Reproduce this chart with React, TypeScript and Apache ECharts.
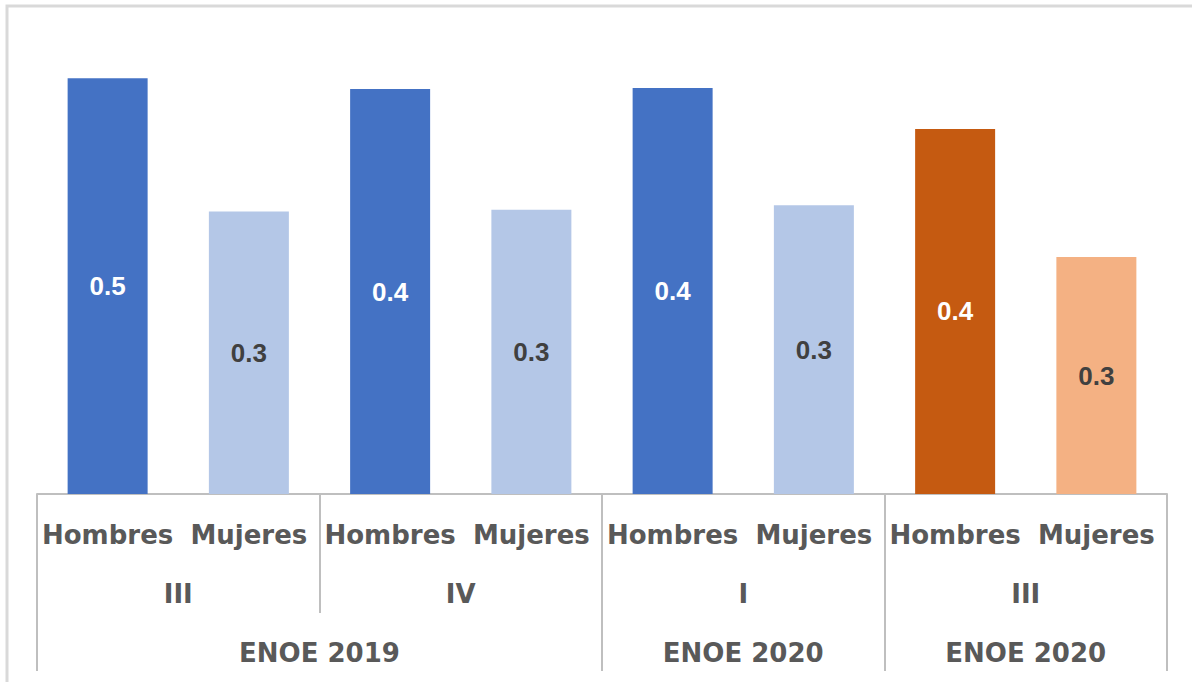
import React, { useEffect, useRef } from "react";
import * as echarts from "echarts";

const categories = ["Hombres", "Mujeres", "Hombres", "Mujeres", "Hombres", "Mujeres", "Hombres", "Mujeres"];
const values = [0.458, 0.311, 0.446, 0.313, 0.447, 0.318, 0.402, 0.261];
const quarters = ["III", "IV", "I", "III"];
const surveys = ["ENOE 2019", "ENOE 2020", "ENOE 2020"];
const surveyBoundaries = [0, 4, 6, 8];
const surveyCenters = [2, 5, 7];

const barColors = ["#4472C4", "#B4C7E7", "#4472C4", "#B4C7E7", "#4472C4", "#B4C7E7", "#C55A11", "#F4B183"];
const labelColors = ["#FFFFFF", "#404040", "#FFFFFF", "#404040", "#FFFFFF", "#404040", "#FFFFFF", "#404040"];

const AXIS_GRAY = "#BFBFBF";
const TEXT_GRAY = "#595959";
const AXIS_FONT = "'DejaVu Sans', sans-serif";

export default function App() {
  const ref = useRef<HTMLDivElement>(null);
  useEffect(() => {
    document.body.style.margin = "0";
    if (!ref.current) return;
    const chart = echarts.init(ref.current, null, { renderer: "svg" });
    chart.setOption({
      animation: false,
      backgroundColor: "#FFFFFF",
      graphic: [
        {
          type: "rect",
          shape: { x: 7, y: 6, width: 1300, height: 800 },
          style: { fill: "none", stroke: "#D9D9D9", lineWidth: 3 },
          silent: true,
        },
      ],
      grid: { left: 37, right: 25, top: 40, bottom: 188, containLabel: false },
      xAxis: [
        {
          type: "category",
          data: categories,
          position: "bottom",
          axisLine: { show: true, lineStyle: { color: AXIS_GRAY, width: 2 } },
          axisTick: { show: false },
          axisLabel: {
            interval: 0,
            margin: 28,
            color: TEXT_GRAY,
            fontFamily: AXIS_FONT,
            fontWeight: "bold",
            fontSize: 26,
          },
        },
        {
          type: "category",
          data: quarters,
          position: "bottom",
          axisLine: { show: false },
          axisTick: { show: true, interval: 0, length: 119, lineStyle: { color: AXIS_GRAY, width: 2 } },
          axisLabel: {
            interval: 0,
            margin: 87,
            color: TEXT_GRAY,
            fontFamily: AXIS_FONT,
            fontWeight: "bold",
            fontSize: 26,
          },
        },
        {
          type: "value",
          min: 0,
          max: 8,
          position: "bottom",
          axisLine: { show: false },
          splitLine: { show: false },
          axisTick: {
            show: true,
            customValues: surveyBoundaries,
            length: 177,
            lineStyle: { color: AXIS_GRAY, width: 2 },
          },
          axisLabel: {
            customValues: surveyCenters,
            formatter: (v: number) => surveys[surveyCenters.indexOf(v)] ?? "",
            margin: 146,
            color: TEXT_GRAY,
            fontFamily: AXIS_FONT,
            fontWeight: "bold",
            fontSize: 26,
          },
        },
      ],
      yAxis: {
        type: "value",
        min: 0,
        max: 0.5,
        show: false,
      },
      series: [
        {
          type: "bar",
          xAxisIndex: 0,
          barWidth: 80,
          data: values.map((v, i) => ({
            value: v,
            itemStyle: { color: barColors[i] },
            label: { color: labelColors[i] },
          })),
          label: {
            show: true,
            position: "inside",
            formatter: (p: any) => Number(p.value).toFixed(1),
            fontFamily: "'Liberation Sans', Arial, sans-serif",
            fontWeight: "bold",
            fontSize: 26,
          },
        },
      ],
    });
    return () => chart.dispose();
  }, []);
  return <div ref={ref} style={{ width: 1192, height: 682 }} />;
}
